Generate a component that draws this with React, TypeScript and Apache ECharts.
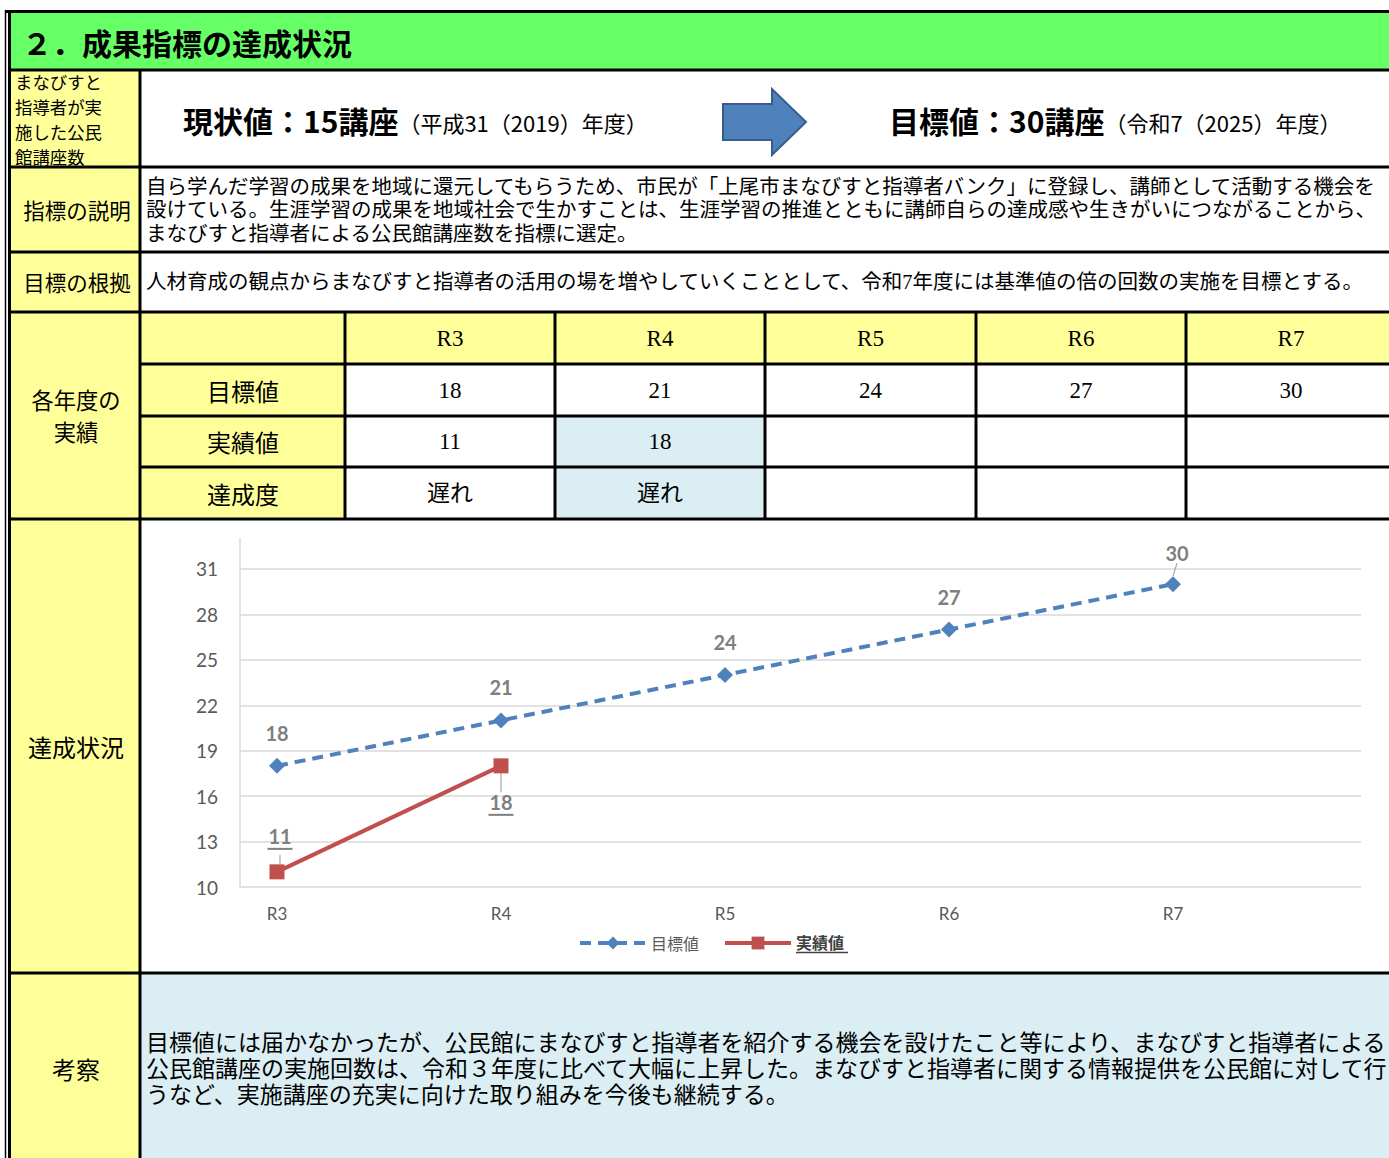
import React, { useEffect, useRef } from "react";
import * as echarts from "echarts";

// ---------- data ----------
const categories = ["R3", "R4", "R5", "R6", "R7"];
const targetValues = [18, 21, 24, 27, 30];
const actualValues: (number | null)[] = [11, 18, null, null, null];
const achievementValues = ["遅れ", "遅れ", "", "", ""];
const rowLabels = ["目標値", "実績値", "達成度"];
const seriesNames = ["目標値", "実績値"];
const yMin = 10;
const yMax = 33;
const yInterval = 3;

const titleText = "２．成果指標の達成状況";
const indicatorLines = ["まなびすと", "指導者が実", "施した公民", "館講座数"];
const currentMain = "現状値：15講座";
const currentSub = "（平成31（2019）年度）";
const goalMain = "目標値：30講座";
const goalSub = "（令和7（2025）年度）";
const descLabel = "指標の説明";
const descText =
  "自ら学んだ学習の成果を地域に還元してもらうため、市民が「上尾市まなびすと指導者バンク」に登録し、講師として活動する機会を\n設けている。生涯学習の成果を地域社会で生かすことは、生涯学習の推進とともに講師自らの達成感や生きがいにつながることから、\nまなびすと指導者による公民館講座数を指標に選定。";
const basisLabel = "目標の根拠";
const basisText =
  "人材育成の観点からまなびすと指導者の活用の場を増やしていくこととして、令和7年度には基準値の倍の回数の実施を目標とする。";
const yearlyLines = ["各年度の", "実績"];
const statusLabel = "達成状況";
const reviewLabel = "考察";
const reviewText =
  "目標値には届かなかったが、公民館にまなびすと指導者を紹介する機会を設けたこと等により、まなびすと指導者による\n公民館講座の実施回数は、令和３年度に比べて大幅に上昇した。まなびすと指導者に関する情報提供を公民館に対して行\nうなど、実施講座の充実に向けた取り組みを今後も継続する。";

// ---------- style helpers ----------
const GOTHIC = "'Noto Sans CJK JP', sans-serif";
const MINCHO = "'Liberation Serif', 'Noto Sans CJK JP', serif";
const CHARTFONT = "Lato, 'Noto Sans CJK JP', sans-serif";
const YELLOW = "#ffff99";
const GREEN = "#66ff66";
const BLUE_BG = "#daeef3";

const rect = (x: number, y: number, w: number, h: number, fill: string) => ({
  type: "rect",
  silent: true,
  shape: { x, y, width: w, height: h },
  style: { fill },
});
const line = (x1: number, y1: number, x2: number, y2: number, w = 3) => ({
  type: "line",
  silent: true,
  z: 10,
  shape: { x1, y1, x2, y2 },
  style: { stroke: "#000", lineWidth: w },
});
const text = (
  x: number,
  y: number,
  t: string,
  o: { size?: number; family?: string; weight?: string; align?: string; lh?: number; color?: string; rich?: any } = {}
) => ({
  type: "text",
  silent: true,
  z: 11,
  x,
  y,
  style: {
    text: t,
    fill: o.color || "#000",
    fontSize: o.size || 20,
    fontFamily: o.family || GOTHIC,
    fontWeight: o.weight || "normal",
    align: o.align || "left",
    textAlign: o.align || "left",
    verticalAlign: "middle",
    textVerticalAlign: "middle",
    lineHeight: o.lh,
    rich: o.rich,
  },
});

function buildGraphics() {
  const g: any[] = [];
  const R = 1389;
  // fills
  g.push(rect(11, 13, R - 11, 57, GREEN));
  g.push(rect(11, 70, 129, 1088, YELLOW));
  g.push(rect(140, 312, R - 140, 52, YELLOW));
  g.push(rect(140, 364, 205, 155, YELLOW));
  g.push(rect(555, 416, 210, 103, BLUE_BG));
  g.push(rect(140, 973, R - 140, 185, BLUE_BG));

  // outer border
  g.push(line(5.5, 10, 5.5, 1158, 1.5));
  g.push(line(9.5, 10, 9.5, 1158, 3));
  g.push(line(5, 11.5, R, 11.5, 3));
  // horizontal rules
  [70, 167, 252, 312, 519, 973].forEach((y) => g.push(line(9, y, R, y, 3)));
  [364, 416, 467].forEach((y) => g.push(line(140, y, R, y, 3)));
  // vertical rules
  g.push(line(140, 70, 140, 1158, 3));
  const colEdges = [345, 555, 765, 976, 1186, 1396];
  colEdges.slice(0, 5).forEach((x) => g.push(line(x, 312, x, 519, 3)));

  // header
  g.push(text(22, 42, titleText, { size: 30, weight: "bold" }));
  indicatorLines.forEach((l, i) => g.push(text(15, 81 + i * 25.3, l, { size: 17.4 })));

  const rich = {
    m: { fontSize: 30, fontWeight: "bold", fontFamily: GOTHIC, fill: "#000", color: "#000" },
    s: { fontSize: 22, fontFamily: GOTHIC, fill: "#000", color: "#000", padding: [4, 0, 0, 0] },
  };
  g.push(text(183, 120, `{m|${currentMain}}{s|${currentSub}}`, { rich }));
  g.push(text(889, 120, `{m|${goalMain}}{s|${goalSub}}`, { rich }));
  g.push({
    type: "polygon",
    silent: true,
    z: 12,
    shape: {
      points: [
        [723, 104],
        [772, 104],
        [772, 89],
        [806, 122],
        [772, 155],
        [772, 140],
        [723, 140],
      ],
    },
    style: { fill: "#4f81bd", stroke: "#385d8a", lineWidth: 2 },
  });

  g.push(text(77, 209, descLabel, { size: 21.5, align: "center" }));
  g.push(text(146, 210, descText, { size: 20.5, lh: 23.5, family: MINCHO }));
  g.push(text(77, 281, basisLabel, { size: 21.5, align: "center" }));
  g.push(text(146, 282, basisText, { size: 20.5, family: MINCHO }));

  // yearly table
  yearlyLines.forEach((l, i) => g.push(text(76, 398.5 + i * 32.5, l, { size: 22.3, align: "center" })));
  const rowY = [390, 441, 493];
  rowLabels.forEach((l, i) => g.push(text(243, rowY[i], l, { size: 24, align: "center" })));
  categories.forEach((c, i) => {
    const cx = i === 4 ? 1291 : (colEdges[i] + colEdges[i + 1]) / 2;
    g.push(text(cx, 338, c, { size: 23, align: "center", family: MINCHO }));
    g.push(text(cx, rowY[0], String(targetValues[i]), { size: 23, align: "center", family: MINCHO }));
    const a = actualValues[i];
    if (a != null) g.push(text(cx, rowY[1], String(a), { size: 23, align: "center", family: MINCHO }));
    if (achievementValues[i]) g.push(text(cx, rowY[2], achievementValues[i], { size: 23, align: "center", family: MINCHO }));
  });

  g.push(text(76, 746, statusLabel, { size: 24, align: "center" }));
  g.push(text(76, 1068, reviewLabel, { size: 24, align: "center" }));
  g.push(text(146, 1069, reviewText, { size: 23, lh: 26, family: MINCHO }));
  return g;
}

export default function App() {
  const ref = useRef<HTMLDivElement>(null);
  useEffect(() => {
    if (!ref.current) return;
    const chart = echarts.init(ref.current, null, { renderer: "svg" });
    const top = 538.7;
    const height = 887 - top;
    const guide = { show: true, lineStyle: { color: "#a6a6a6", width: 1.2 } };
    const underlineRich = {
      n: { fontSize: 20, fontWeight: "bold", color: "#7f7f7f", fontFamily: CHARTFONT, lineHeight: 22 },
      u: { width: 25, height: 2, lineHeight: 3, backgroundColor: "#7f7f7f" },
    };
    const lastTarget = targetValues.length - 1;
    const option: any = {
      animation: false,
      graphic: { elements: buildGraphics() },
      grid: [
        { left: 240, top, width: 1121, height, outerBoundsMode: "none", containLabel: false },
        { left: 277, top, width: 896, height, outerBoundsMode: "none", containLabel: false },
      ],
      xAxis: [
        { gridIndex: 0, type: "value", show: false, min: 0, max: 1 },
        {
          gridIndex: 1,
          type: "category",
          data: categories,
          boundaryGap: false,
          axisLine: { show: false },
          axisTick: { show: false },
          splitLine: { show: false },
          axisLabel: { color: "#595959", fontSize: 17, margin: 18, fontFamily: CHARTFONT },
        },
      ],
      yAxis: [
        {
          gridIndex: 0,
          type: "value",
          min: yMin,
          max: yMax,
          interval: yInterval,
          axisLine: { show: true, lineStyle: { color: "#d9d9d9", width: 1.5 } },
          axisTick: { show: false },
          splitLine: { show: true, showMaxLine: false, lineStyle: { color: "#d9d9d9", width: 1.5 } },
          axisLabel: { showMaxLabel: false, color: "#595959", fontSize: 19, margin: 22, fontFamily: CHARTFONT },
        },
        { gridIndex: 1, type: "value", min: yMin, max: yMax, show: false, splitLine: { show: false } },
      ],
      legend: {
        left: 573,
        top: 929,
        itemWidth: 66,
        itemHeight: 16,
        itemGap: 24,
        lineStyle: { width: 4 },
        textStyle: { fontSize: 16, color: "#595959", fontFamily: CHARTFONT },
        formatter: (name: string) => (name === seriesNames[1] ? `{b|${name}}\n{u| }` : name),
        data: [
          { name: seriesNames[0] },
          {
            name: seriesNames[1],
            textStyle: {
              rich: {
                b: { fontSize: 16, fontWeight: "bold", color: "#404040", fontFamily: CHARTFONT, lineHeight: 19 },
                u: { width: 52, height: 1.5, lineHeight: 2, backgroundColor: "#404040" },
              },
            },
          },
        ],
      },
      series: [
        {
          name: seriesNames[0],
          type: "line",
          xAxisIndex: 1,
          yAxisIndex: 1,
          data: targetValues.map((v, i) => (i === lastTarget ? { value: v, labelLine: guide } : v)),
          symbol: "diamond",
          symbolSize: 16,
          itemStyle: { color: "#4f81bd" },
          lineStyle: { color: "#4f81bd", width: 4, type: [11, 7] },
          label: {
            show: true,
            position: "top",
            distance: 15,
            fontSize: 20,
            fontWeight: "bold",
            color: "#7f7f7f",
            fontFamily: CHARTFONT,
          },
          labelLayout: (p: any) => (p.dataIndex === lastTarget ? { dx: 4, dy: 2 } : {}),
          labelLine: { show: false },
          z: 3,
        },
        {
          name: seriesNames[1],
          type: "line",
          xAxisIndex: 1,
          yAxisIndex: 1,
          data: actualValues,
          symbol: "rect",
          symbolSize: 15,
          itemStyle: { color: "#c0504d" },
          lineStyle: { color: "#c0504d", width: 4 },
          label: {
            show: true,
            position: "top",
            distance: 4,
            formatter: (p: any) => `{n|${p.value}}\n{u| }`,
            rich: underlineRich,
          },
          labelLayout: (p: any) => (p.dataIndex === 0 ? { dx: 3, dy: -10 } : { dy: 62 }),
          labelLine: guide,
          z: 4,
        },
      ],
    };
    chart.setOption(option);
    return () => chart.dispose();
  }, []);
  return (
    <div
      ref={ref}
      style={{ position: "fixed", left: 0, top: 0, width: 1389, height: 1158, background: "#fff" }}
    />
  );
}
